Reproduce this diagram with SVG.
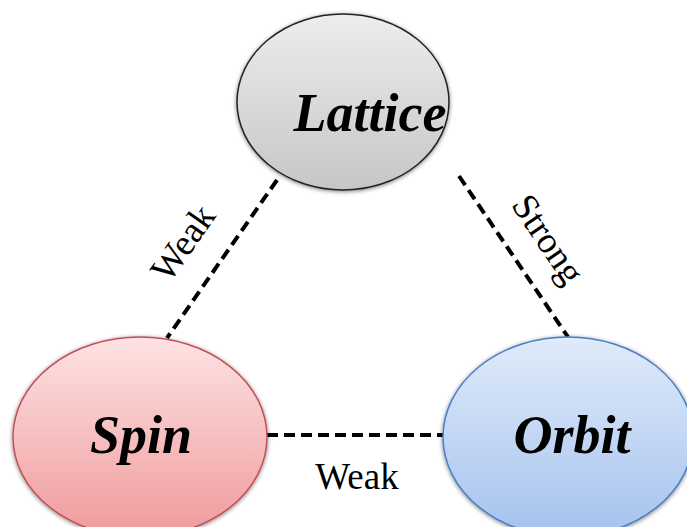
<svg xmlns="http://www.w3.org/2000/svg" width="687" height="527" viewBox="0 0 687 527">
<defs>
<linearGradient id="gGrey" x1="0" y1="0" x2="0" y2="1"><stop offset="0" stop-color="#ededed"/><stop offset="1" stop-color="#c6c6c6"/></linearGradient>
<linearGradient id="gRed" x1="0" y1="0" x2="0" y2="1"><stop offset="0" stop-color="#fde3e3"/><stop offset="1" stop-color="#f09a9c"/></linearGradient>
<linearGradient id="gBlue" x1="0" y1="0" x2="0" y2="1"><stop offset="0" stop-color="#e0ebfa"/><stop offset="1" stop-color="#a5c2ee"/></linearGradient>
<filter id="sh" x="-10%" y="-10%" width="120%" height="120%"><feGaussianBlur in="SourceAlpha" stdDeviation="2"/><feOffset dx="0" dy="1"/><feComponentTransfer><feFuncA type="linear" slope="0.5"/></feComponentTransfer><feMerge><feMergeNode/><feMergeNode in="SourceGraphic"/></feMerge></filter>
</defs>
<style>
.conn{stroke:#000;stroke-width:4;stroke-dasharray:11 6;fill:none}
.node{font-family:"Liberation Serif","Times New Roman",serif;font-weight:bold;font-style:italic;font-size:54px;text-anchor:middle;fill:#000}
.lbl{font-family:"Liberation Serif","Times New Roman",serif;font-size:37px;text-anchor:middle;fill:#000}
</style>
<rect width="687" height="527" fill="#fff"/>
<g id="connectors">
<line class="conn" x1="277" y1="180" x2="167" y2="338"/>
<line class="conn" x1="459" y1="176" x2="568" y2="337"/>
<line class="conn" x1="267" y1="435" x2="443" y2="435"/>
</g>
<g id="labels">
<text class="lbl" transform="translate(193,250) rotate(-55)">Weak</text>
<text class="lbl" transform="translate(538,246) rotate(56)">Strong</text>
<text class="lbl" x="357" y="489">Weak</text>
</g>
<g id="lattice">
<ellipse cx="343" cy="102" rx="106" ry="88" fill="url(#gGrey)" stroke="#222" stroke-width="1.5" filter="url(#sh)"/>
<text class="node" x="370" y="131">Lattice</text>
</g>
<g id="spin">
<ellipse cx="140" cy="437" rx="127" ry="100" fill="url(#gRed)" stroke="#c0505a" stroke-width="1.5" filter="url(#sh)"/>
<text class="node" x="141" y="453">Spin</text>
</g>
<g id="orbit">
<ellipse cx="568" cy="437" rx="125" ry="100" fill="url(#gBlue)" stroke="#4a7ec4" stroke-width="1.5" filter="url(#sh)"/>
<text class="node" x="572" y="453">Orbit</text>
</g>
</svg>
